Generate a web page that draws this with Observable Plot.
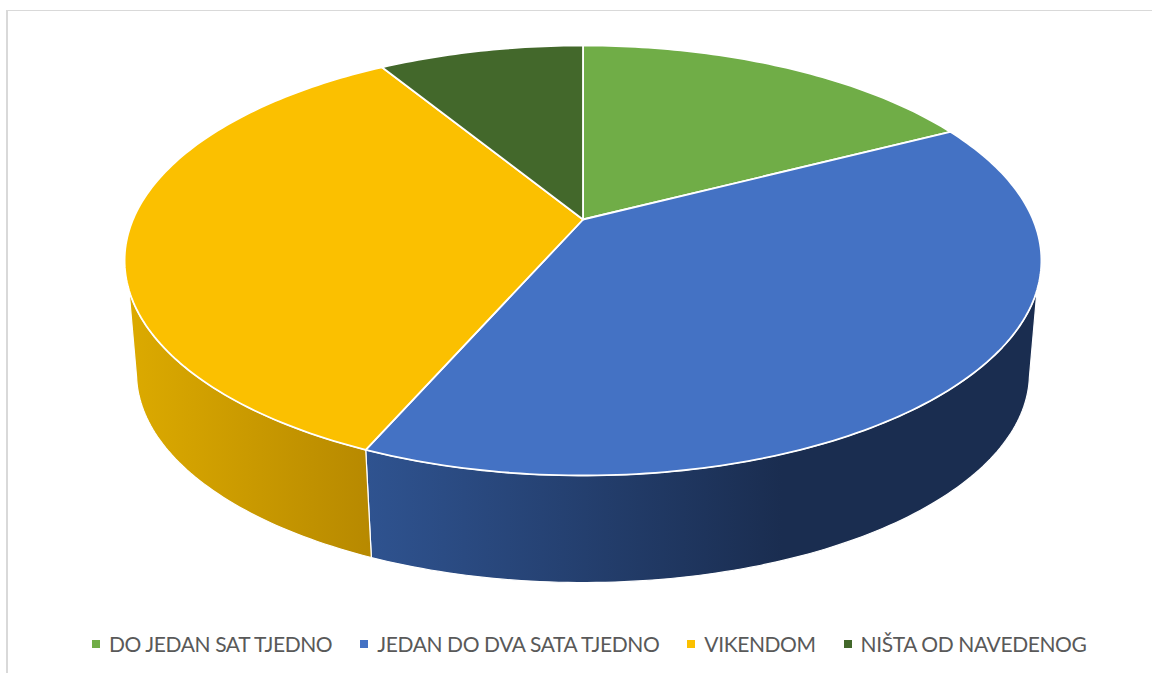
<!DOCTYPE html>
<html>
<head>
<meta charset="utf-8">
<script src="https://cdn.jsdelivr.net/npm/d3@7"></script>
<script src="https://cdn.jsdelivr.net/npm/@observablehq/plot@0.6"></script>
<style>
  html, body { margin: 0; padding: 0; background: #fff; overflow: hidden; }
  #page { position: relative; width: 1152px; height: 673px; overflow: hidden; }
  #frame { position: absolute; left: 6px; top: 10px; width: 1200px; height: 700px;
           border-left: 2px solid #d9d9d9; border-top: 1px solid #d9d9d9; box-sizing: border-box; }
  #legend { position: absolute; left: 92px; top: 629.5px; display: flex; align-items: center; height: 28px;
            font-family: Lato, "Open Sans", sans-serif; font-size: 21px; letter-spacing: -0.4px; color: #595959; white-space: nowrap; }
  .item { display: flex; align-items: center; margin-right: 28px; }
  .swatch { width: 8px; height: 8px; margin-right: 9px; flex: none; }
</style>
</head>
<body>
<div id="page">
  <div id="chart"></div>
  <div id="frame"></div>
  <div id="legend"></div>
</div>
<script>
// Data
const categories = ["DO JEDAN SAT TJEDNO", "JEDAN DO DVA SATA TJEDNO", "VIKENDOM", "NIŠTA OD NAVEDENOG"];
const values = [4, 9, 8, 2];
const topColors = ["#70ad47", "#4472c4", "#fbc000", "#43682b"];
const sideGradients = [
  null,
  [["0%", "#2f5390"], ["62%", "#1a2d50"], ["100%", "#1a2d50"]],
  [["0%", "#dcaa00"], ["100%", "#b78900"]],
  null
];

// 3D view of the disc
const perspective = 0.1907;   // foreshortening of the disc
const wallScale = 0.974;      // lower rim relative to upper rim
const wallDrop = 0.5487;      // wall height, in disc radii
const upperFrom = 108.7, upperTo = 251.3; // visible part of the upper rim's wall, degrees
const lowerFrom = 102, lowerTo = 258;     // visible part of the lower rim, degrees

const total = d3.sum(values);
const cum = d3.cumsum(values);
const slices = categories.map((name, i) => ({
  name,
  a0: (cum[i] - values[i]) / total * 360,
  a1: cum[i] / total * 360
}));

function rim(deg) {
  const t = deg * Math.PI / 180, u = Math.sin(t), v = Math.cos(t), w = 1 + perspective * v;
  return {x: u / w, y: v / w};
}
function arc(a0, a1) {
  const n = Math.max(2, Math.ceil(a1 - a0));
  return d3.range(n + 1).map(i => rim(a0 + (a1 - a0) * i / n));
}
const topFaces = slices.flatMap(s => {
  const c = {x: 0, y: 0};
  return [c, ...arc(s.a0, s.a1), c].map(p => ({...p, name: s.name}));
});
function wall(s) {
  const a0 = Math.max(s.a0, upperFrom), a1 = Math.min(s.a1, upperTo);
  if (a1 <= a0) return [];
  const upper = arc(a0, a1);
  const lower = arc(Math.max(s.a0, lowerFrom), Math.min(s.a1, lowerTo))
    .map(p => ({x: p.x * wallScale, y: p.y * wallScale - wallDrop})).reverse();
  return [...upper, ...lower, upper[0]];
}

const defs = () => {
  const d = d3.create("svg:defs");
  sideGradients.forEach((stops, i) => {
    if (!stops) return;
    const g = d.append("linearGradient").attr("id", "side" + i).attr("x1", 0).attr("x2", 1).attr("y1", 0).attr("y2", 0);
    stops.forEach(([o, c]) => g.append("stop").attr("offset", o).attr("stop-color", c));
  });
  return d.node();
};

const wallMarks = slices.map((s, i) => sideGradients[i]
  ? Plot.line(wall(s), {x: "x", y: "y", fill: `url(#side${i})`, stroke: "white", strokeWidth: 1.2, curve: "linear"})
  : null);

const plot = Plot.plot({
  width: 1152, height: 625,
  margin: 0,
  x: {domain: [-1, 1], range: [582.5 - 450, 582.5 + 450], axis: null},
  y: {domain: [-1, 1], range: [219 + 207.2, 219 - 207.2], axis: null},
  color: {domain: categories, range: topColors},
  marks: [
    defs,
    ...wallMarks,
    Plot.line(topFaces, {x: "x", y: "y", z: "name", fill: "name", stroke: "white", strokeWidth: 1.8, curve: "linear"})
  ]
});
document.getElementById("chart").append(plot);

const legend = d3.select("#legend");
categories.forEach((c, i) => {
  const it = legend.append("div").attr("class", "item");
  it.append("span").attr("class", "swatch").style("background", topColors[i]);
  it.append("span").text(c);
});
</script>
</body>
</html>
